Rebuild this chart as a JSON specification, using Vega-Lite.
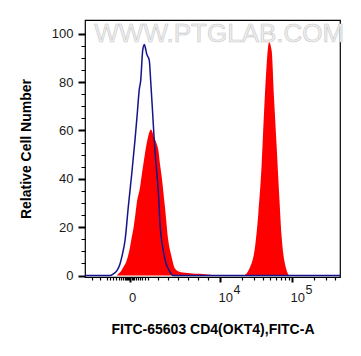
{
  "$schema": "https://vega.github.io/schema/vega-lite/v6.json",
  "width": 255,
  "height": 257,
  "autosize": {"type": "none"},
  "padding": {"left": 85, "top": 20, "right": 21, "bottom": 79},
  "background": "white",
  "config": {
    "view": {"stroke": "#000", "strokeWidth": 1.2},
    "font": "Liberation Sans",
    "axis": {
      "labelFont": "Liberation Sans",
      "labelFontSize": 13,
      "labelColor": "#1a1a1a",
      "titleFont": "Liberation Sans",
      "titleFontSize": 14,
      "titleFontWeight": "bold",
      "titleColor": "#000",
      "tickColor": "#000",
      "domain": false,
      "grid": false,
      "labelOverlap": false,
      "labelFlush": false
    }
  },
  "resolve": {"axis": {"x": "independent", "y": "independent"}},
  "datasets": {
    "sample": [
      {"x": 2.125, "count": 0}, {"x": 2.565, "count": 0}, {"x": 2.588, "count": 0.7},
      {"x": 2.625, "count": 1.8}, {"x": 2.657, "count": 3.4}, {"x": 2.704, "count": 6.2},
      {"x": 2.75, "count": 11.7}, {"x": 2.774, "count": 15.8}, {"x": 2.8, "count": 20},
      {"x": 2.819, "count": 24}, {"x": 2.843, "count": 29.7}, {"x": 2.889, "count": 36.5},
      {"x": 2.915, "count": 42}, {"x": 2.94, "count": 47}, {"x": 2.99, "count": 55.9},
      {"x": 3.042, "count": 60.4}, {"x": 3.087, "count": 57}, {"x": 3.12, "count": 54.5},
      {"x": 3.143, "count": 52}, {"x": 3.167, "count": 46}, {"x": 3.19, "count": 41},
      {"x": 3.236, "count": 28.3}, {"x": 3.282, "count": 14.5}, {"x": 3.329, "count": 7.6},
      {"x": 3.375, "count": 2.9}, {"x": 3.444, "count": 1.5}, {"x": 3.583, "count": 1.0},
      {"x": 3.722, "count": 0.7}, {"x": 3.861, "count": 0.3}, {"x": 3.972, "count": 0},
      {"x": 4.324, "count": 0}, {"x": 4.417, "count": 3.4}, {"x": 4.486, "count": 11.7},
      {"x": 4.532, "count": 25.5}, {"x": 4.579, "count": 46}, {"x": 4.611, "count": 67},
      {"x": 4.649, "count": 87.6}, {"x": 4.681, "count": 96.5}, {"x": 4.718, "count": 93},
      {"x": 4.75, "count": 73.8}, {"x": 4.788, "count": 53}, {"x": 4.824, "count": 32.4},
      {"x": 4.857, "count": 15.8}, {"x": 4.903, "count": 4.8}, {"x": 4.972, "count": 0},
      {"x": 5.667, "count": 0}
    ],
    "control": [
      {"x": 2.125, "count": 0}, {"x": 2.472, "count": 0}, {"x": 2.518, "count": 0.7},
      {"x": 2.569, "count": 2}, {"x": 2.611, "count": 4.8}, {"x": 2.646, "count": 9},
      {"x": 2.681, "count": 14.5}, {"x": 2.726, "count": 28.3}, {"x": 2.774, "count": 42},
      {"x": 2.819, "count": 55.9}, {"x": 2.851, "count": 67}, {"x": 2.879, "count": 77},
      {"x": 2.899, "count": 80.7}, {"x": 2.926, "count": 93}, {"x": 2.949, "count": 95.6},
      {"x": 2.965, "count": 94}, {"x": 2.982, "count": 91.7}, {"x": 3.018, "count": 89},
      {"x": 3.037, "count": 80.7}, {"x": 3.065, "count": 67}, {"x": 3.087, "count": 55.9},
      {"x": 3.115, "count": 45}, {"x": 3.143, "count": 35}, {"x": 3.167, "count": 21.4},
      {"x": 3.212, "count": 10.3}, {"x": 3.25, "count": 5}, {"x": 3.282, "count": 2.8},
      {"x": 3.351, "count": 0}, {"x": 5.667, "count": 0}
    ]
  },
  "layer": [
    {
      "data": {"values": [{"label": "WWW.PTGLAB.COM"}]},
      "mark": {"type": "text", "font": "Liberation Sans", "fontSize": 26, "fill": "#efefef", "stroke": "#c8c8c8", "strokeWidth": 0.6, "baseline": "middle", "align": "center"},
      "encoding": {
        "x": {
          "datum": 3.99, "type": "quantitative",
          "axis": {
            "orient": "bottom",
            "title": null,
            "ticks": true,
            "tickSize": 0,
            "tickWidth": 0,
            "labelPadding": 6,
            "labelAlign": "left",
            "labelOffset": 13,
            "labelFontSize": 12.5,
            "values": [4, 5],
            "labelExpr": "datum.value < 4.5 ? '4' : '5'"
          }
        },
        "y": {"datum": 100, "type": "quantitative", "axis": null},
        "text": {"field": "label"}
      }
    },
    {
      "data": {"name": "sample"},
      "mark": {"type": "area", "color": "#ff0000", "interpolate": "monotone"},
      "encoding": {
        "x": {
          "field": "x", "type": "quantitative",
          "scale": {"domain": [2.125, 5.667], "nice": false, "zero": false},
          "axis": {
            "orient": "bottom",
            "title": "FITC-65603 CD4(OKT4),FITC-A",
            "titlePadding": 18,
            "labelPadding": 9,
            "labelAlign": "left",
            "labelOffset": -2,
            "tickSize": 5,
            "tickWidth": 2,
            "values": [2.757, 4, 5],
            "labelExpr": "datum.value < 3 ? '0' : '10'"
          }
        },
        "y": {
          "field": "count", "type": "quantitative",
          "scale": {"domain": [-0.6, 105.7], "nice": false, "zero": false},
          "axis": {
            "orient": "left",
            "title": "Relative Cell Number",
            "titlePadding": 18,
            "labelPadding": 5,
            "tickSize": 7,
            "tickWidth": 2,
            "values": [0, 20, 40, 60, 80, 100]
          }
        }
      }
    },
    {
      "data": {"name": "control"},
      "mark": {"type": "line", "color": "#14148c", "strokeWidth": 1.5, "interpolate": "monotone"},
      "encoding": {
        "x": {
          "field": "x", "type": "quantitative",
          "axis": {
            "orient": "bottom",
            "title": null,
            "labels": false,
            "tickSize": 3,
            "tickWidth": 1.2,
            "values": [2.218, 2.333, 2.431, 2.472, 2.514, 2.556, 2.597, 2.625, 2.653, 2.681, 2.694, 2.708, 2.722, 2.736, 2.771, 2.785, 2.806, 2.833, 2.861, 2.889, 2.917, 2.958, 3.0, 3.139, 3.278, 3.417, 3.556, 3.694, 3.833, 4.301, 4.477, 4.602, 4.699, 4.778, 4.845, 4.903, 4.954, 5.301, 5.477, 5.602]
          }
        },
        "y": {
          "field": "count", "type": "quantitative",
          "axis": {
            "orient": "left",
            "title": null,
            "labels": false,
            "tickSize": 4,
            "tickWidth": 1,
            "values": [5, 10, 15, 25, 30, 35, 45, 50, 55, 65, 70, 75, 85, 90, 95]
          }
        }
      }
    }
  ]
}
